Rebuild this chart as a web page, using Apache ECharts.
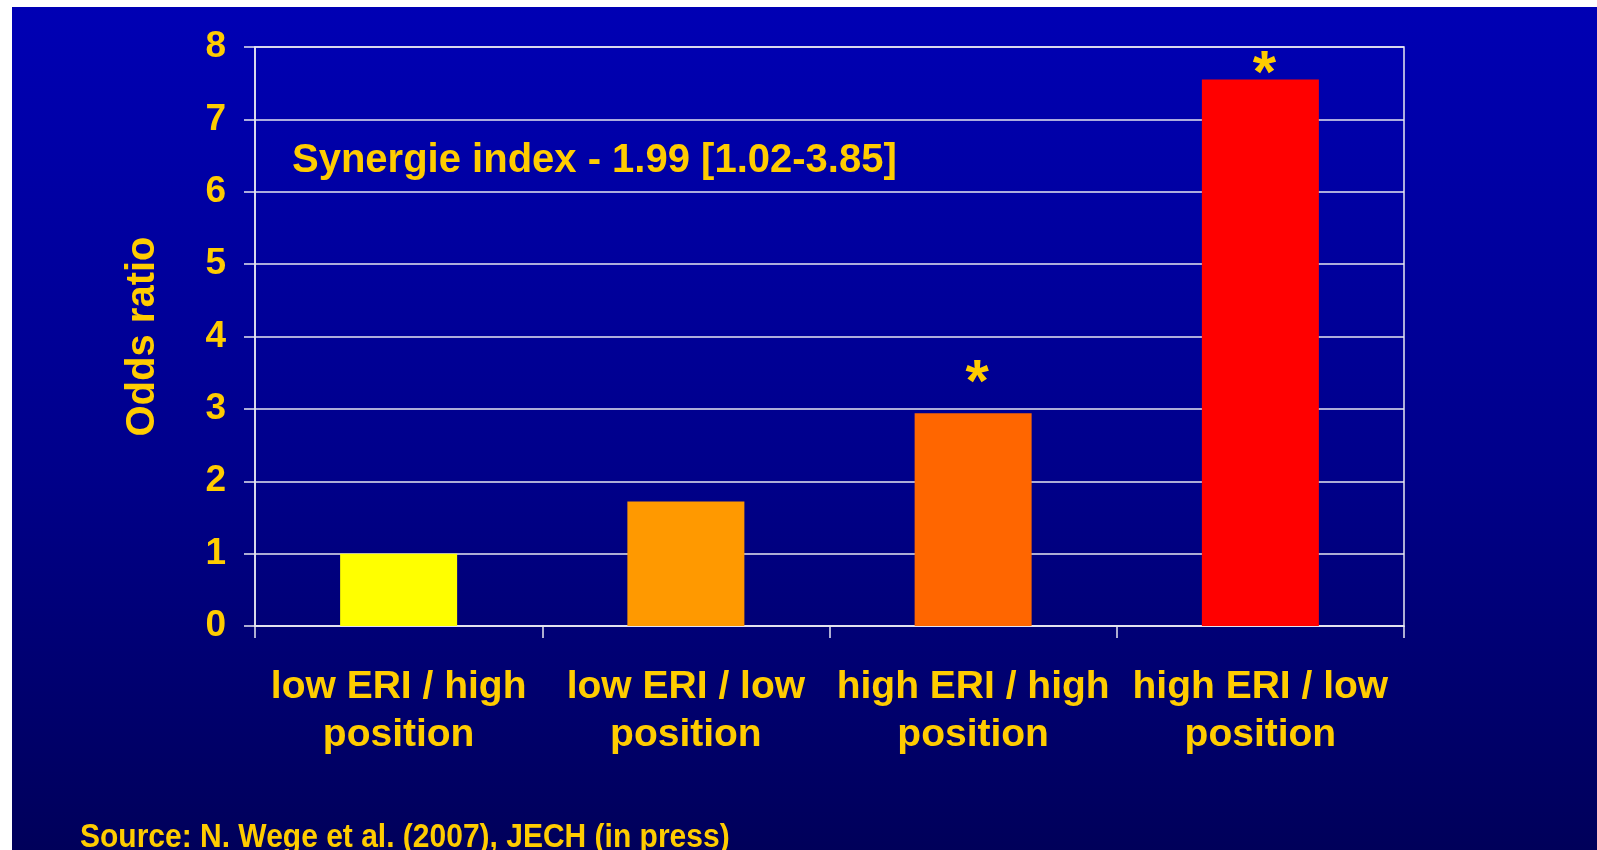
<!DOCTYPE html>
<html>
<head>
<meta charset="utf-8">
<script src="https://cdn.jsdelivr.net/npm/echarts@6/dist/echarts.min.js"></script>
<style>
html,body{margin:0;padding:0;background:#ffffff;width:1597px;height:850px;overflow:hidden;}
#bg{position:absolute;left:12px;top:7px;width:1585px;height:843px;background:linear-gradient(to bottom,#0000B4 0%,#00008A 55%,#00005A 100%);}
#chart{position:absolute;left:0;top:0;width:1597px;height:850px;}
</style>
</head>
<body>
<div id="bg"></div>
<div id="chart"></div>
<script>
const categories = ['low ERI / high\nposition', 'low ERI / low\nposition', 'high ERI / high\nposition', 'high ERI / low\nposition'];
const oddsRatios = [1.0, 1.72, 2.94, 7.55];
const barColors = ['#FFFF00', '#FF9900', '#FF6600', '#FF0000'];
const significant = [false, false, true, true];
const yTicks = [0, 1, 2, 3, 4, 5, 6, 7, 8];
const annotation = 'Synergie index - 1.99 [1.02-3.85]';
const sourceText = 'Source: N. Wege et al. (2007), JECH (in press)';

const textColor = '#FFCC00';
const font = '"Liberation Sans", Arial, sans-serif';
const starDistance = [0, 0, -1, -26];

const chart = echarts.init(document.getElementById('chart'), null, {renderer: 'canvas'});
chart.setOption({
  backgroundColor: 'transparent',
  animation: false,
  grid: {left: 255, right: 193, top: 47, bottom: 224, show: true, borderColor: '#E6E6F0', borderWidth: 1.5, backgroundColor: 'transparent'},
  xAxis: {
    type: 'category',
    data: categories,
    axisLine: {show: true, lineStyle: {color: '#E6E6F0', width: 1.5}},
    axisTick: {show: true, alignWithLabel: false, length: 12, lineStyle: {color: '#E6E6F0', width: 1.5}},
    axisLabel: {color: textColor, fontFamily: font, fontWeight: 'bold', fontSize: 39, lineHeight: 48, margin: 37, interval: 0}
  },
  yAxis: {
    type: 'value',
    min: yTicks[0],
    max: yTicks[yTicks.length - 1],
    interval: 1,
    name: 'Odds ratio',
    nameLocation: 'middle',
    nameGap: 92,
    nameRotate: 90,
    nameTextStyle: {color: textColor, fontFamily: font, fontWeight: 'bold', fontSize: 40},
    axisLine: {show: true, lineStyle: {color: '#E6E6F0', width: 1.5}},
    axisTick: {show: true, length: 11, lineStyle: {color: '#E6E6F0', width: 1.5}},
    splitLine: {show: true, lineStyle: {color: '#E6E6F0', width: 1.5}},
    axisLabel: {color: textColor, fontFamily: font, fontWeight: 'bold', fontSize: 37, margin: 29}
  },
  series: [{
    type: 'bar',
    barWidth: 117,
    data: oddsRatios.map((v, i) => ({
      value: v,
      itemStyle: {color: barColors[i]},
      label: {
        show: significant[i],
        position: 'top',
        distance: starDistance[i],
        offset: [4, 0],
        formatter: '*',
        color: textColor,
        fontFamily: font,
        fontWeight: 'bold',
        fontSize: 60,
        lineHeight: 60
      }
    }))
  }],
  graphic: [
    {type: 'text', left: 292, top: 141, style: {text: annotation, fill: textColor, font: 'bold 40px "Liberation Sans", Arial, sans-serif'}},
    {type: 'text', x: 80, y: 838, scaleY: 1.12, style: {text: sourceText, fill: textColor, textVerticalAlign: 'middle', verticalAlign: 'middle', font: 'bold 30px "Liberation Sans", Arial, sans-serif'}}
  ]
});
</script>
</body>
</html>
